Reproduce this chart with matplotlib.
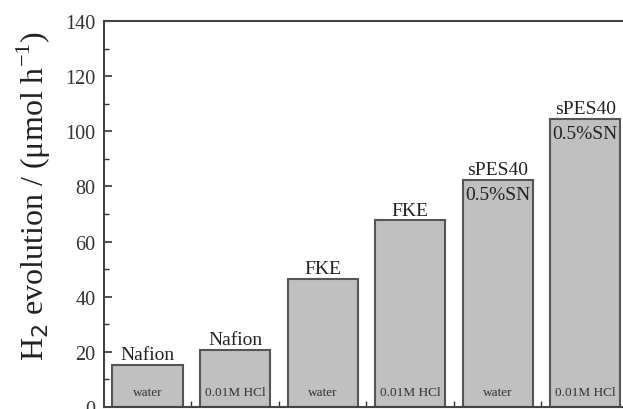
import numpy as np
import matplotlib
matplotlib.use('Agg')
import matplotlib.pyplot as plt
from matplotlib.ticker import MultipleLocator

# data
membranes = ['Nafion', 'Nafion', 'FKE', 'FKE', 'sPES40', 'sPES40']
media = ['water', '0.01M HCl', 'water', '0.01M HCl', 'water', '0.01M HCl']
h2_rate = [15.3, 20.8, 46.4, 67.7, 82.5, 104.5]

plt.rcParams['font.family'] = ['Liberation Serif', 'DejaVu Serif']

fig = plt.figure(figsize=(6.23, 4.10), dpi=100)
ax = fig.add_axes([104 / 623, 2 / 410, 525 / 623, 386 / 410])

x = np.arange(1, len(h2_rate) + 1)
ax.bar(x, h2_rate, width=0.8, color='#c0c0c0', edgecolor='#555555', linewidth=1.5)

for xi, val, mem, med in zip(x, h2_rate, membranes, media):
    ax.text(xi, 5.4, med, ha='center', va='center', fontsize=9.5, color='#333333')
    ax.text(xi, val + 0.6, mem, ha='center', va='bottom', fontsize=14, color='#222222')
    if mem == 'sPES40':
        ax.text(xi, val - 2.2, '0.5%SN', ha='center', va='top', fontsize=14, color='#222222')

ax.set_xlim(0.503, 6.5)
ax.set_ylim(0, 140)
ax.set_xticks(x[:-1] + 0.5)
ax.set_xticklabels([])
ax.yaxis.set_major_locator(MultipleLocator(20))
ax.yaxis.set_minor_locator(MultipleLocator(10))
ax.tick_params(axis='both', which='both', direction='in', colors='#333333', labelcolor='#333333')
ax.tick_params(axis='y', which='major', length=6, width=1.2, labelsize=14.5, pad=6)
ax.tick_params(axis='y', which='minor', length=3.5, width=1.0)
ax.tick_params(axis='x', which='major', length=4, width=1.0)

for side in ['left', 'top', 'bottom', 'right']:
    ax.spines[side].set_linewidth(1.5)
    ax.spines[side].set_color('#444444')

ax.set_ylabel('H$_2$ evolution / ($\\mathregular{\\mu}$mol h$^{\\mathregular{-1}}$)',
              fontsize=23, color='#222222')
ax.yaxis.set_label_coords(-0.098, 0.55)

fig.savefig('out.png', dpi=100)
